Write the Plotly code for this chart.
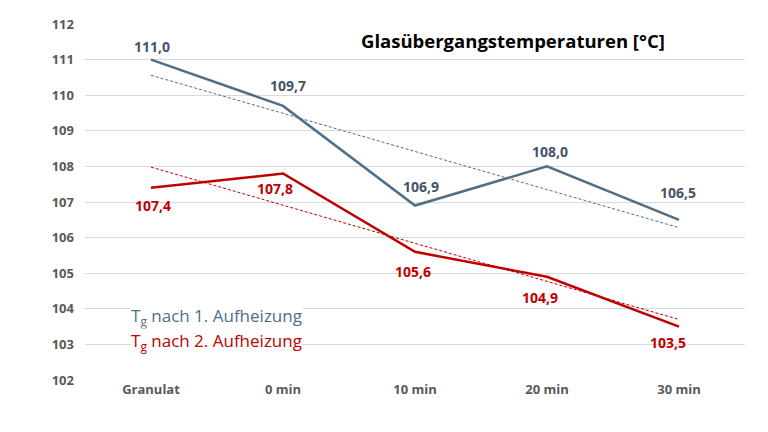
import numpy as np
import plotly.graph_objects as go

categories = ["Granulat", "0 min", "10 min", "20 min", "30 min"]
tg1 = [111.0, 109.7, 106.9, 108.0, 106.5]
tg2 = [107.4, 107.8, 105.6, 104.9, 103.5]
series_names = ["T<sub>g</sub> nach 1. Aufheizung", "T<sub>g</sub> nach 2. Aufheizung"]
title_text = "Glasübergangstemperaturen [°C]"

# label offsets in pixels (style only)
shift1 = [(1, 13), (5, 20), (6, 19), (3, 15), (-1, 27)]
shift2 = [(2, -18), (-8, -15), (-2, -20), (-7, -21), (-11, -16)]

c1 = "#4F6F86"
c1_lab = "#44546A"
c2 = "#C00000"
font = "Open Sans"

xi = np.arange(len(categories))

def trend(vals):
    k, d = np.polyfit(xi, vals, 1)
    return k * xi + d

def fmt(v):
    return f"{v:.1f}".replace(".", ",")

fig = go.Figure()
for vals, col in [(tg1, c1), (tg2, c2)]:
    fig.add_trace(go.Scatter(x=categories, y=trend(vals), mode="lines",
                             line=dict(color=col, width=1, dash="3px,2px"),
                             showlegend=False, hoverinfo="skip"))
fig.add_trace(go.Scatter(x=categories, y=tg1, mode="lines",
                         line=dict(color=c1, width=2.5), showlegend=False))
fig.add_trace(go.Scatter(x=categories, y=tg2, mode="lines",
                         line=dict(color=c2, width=2.5), showlegend=False))

for vals, shifts, col in [(tg1, shift1, c1_lab), (tg2, shift2, c2)]:
    for cat, v, (dx, dy) in zip(categories, vals, shifts):
        fig.add_annotation(x=cat, y=v, text=f"<b>{fmt(v)}</b>", showarrow=False,
                           xshift=dx, yshift=dy, xanchor="center", yanchor="middle",
                           font=dict(size=14, color=col, family=font))

fig.add_annotation(x=0.415, y=0.955, xref="paper", yref="paper", xanchor="left", yanchor="middle",
                   text=f"<b>{title_text}</b>", showarrow=False,
                   font=dict(size=18.5, color="#000000", family=font))
for i, (name, col) in enumerate(zip(series_names, [c1, c2])):
    fig.add_annotation(x=0.068, y=0.178 - i * 0.07, xref="paper", yref="paper",
                       xanchor="left", yanchor="middle", text=name, showarrow=False,
                       bgcolor="white", borderpad=0,
                       font=dict(size=17, color=col, family=font))

fig.update_layout(
    width=768, height=432,
    margin=dict(l=85, r=23, t=24, b=52),
    plot_bgcolor="white", paper_bgcolor="white",
    font=dict(family=font),
    xaxis=dict(showgrid=False, showline=False, zeroline=False, ticks="",
               range=[-0.5, 4.5],
               tickfont=dict(size=13, color="#595959", family=font, weight="bold")),
    yaxis=dict(range=[102, 112], dtick=1, showgrid=True, gridcolor="#D9D9D9", gridwidth=1,
               zeroline=False, showline=False, ticks="", ticklabelstandoff=10,
               tickfont=dict(size=13, color="#595959", family=font, weight="bold")),
)
fig.write_html("out.html")
